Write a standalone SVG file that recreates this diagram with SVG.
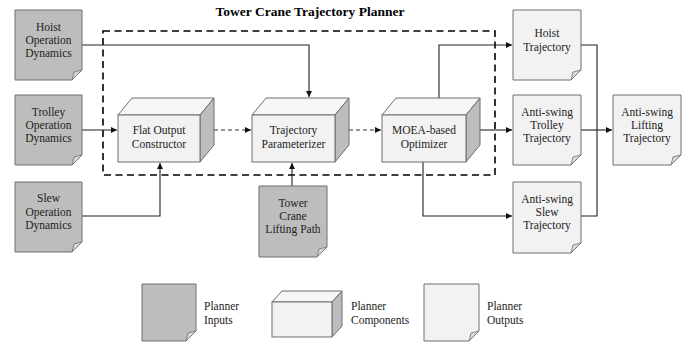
<svg xmlns="http://www.w3.org/2000/svg" width="697" height="346" viewBox="0 0 697 346">
<style>
text{font-family:"Liberation Serif","Times New Roman",serif;font-size:11.5px;fill:#222;text-anchor:middle}
.t{font-weight:bold;font-size:13.5px;fill:#000}
.lg{text-anchor:start}
.in{fill:#bdbdbd;stroke:#6e6e6e;stroke-width:1}
.out{fill:#f2f2f2;stroke:#6e6e6e;stroke-width:1}
.fold{fill:#d9d9d9;stroke:#6e6e6e;stroke-width:0.8}
.fr{fill:#f2f2f2;stroke:#6e6e6e;stroke-width:1}
.tp{fill:#f7f7f7;stroke:#6e6e6e;stroke-width:1}
.sd{fill:#bdbdbd;stroke:#6e6e6e;stroke-width:1}
.c{fill:none;stroke:#222;stroke-width:1.1}
.d{fill:none;stroke:#333;stroke-width:1.1;stroke-dasharray:4 3}
.frame{fill:none;stroke:#000;stroke-width:1.6;stroke-dasharray:7 4.5}
</style>
<defs>
<marker id="ah" viewBox="0 0 6 6" refX="6" refY="3" markerWidth="6" markerHeight="6" markerUnits="userSpaceOnUse" orient="auto">
<path d="M0,0 L6,3 L0,6 Z" fill="#111"/>
</marker>
</defs>
<text class="t" x="310" y="16">Tower Crane Trajectory Planner</text>
<rect class="frame" x="103" y="31" width="392" height="144"/>
<g id="connectors">
<path class="c" d="M82,45 H309 V97" marker-end="url(#ah)"/>
<path class="c" d="M82,130 H117" marker-end="url(#ah)"/>
<path class="c" d="M82,216 H160 V163" marker-end="url(#ah)"/>
<path class="d" d="M214,130 H251" marker-end="url(#ah)"/>
<path class="d" d="M349,130 H381" marker-end="url(#ah)"/>
<path class="c" d="M292,186 V163" marker-end="url(#ah)"/>
<path class="c" d="M439,98 V45 H512" marker-end="url(#ah)"/>
<path class="c" d="M480,130 H512" marker-end="url(#ah)"/>
<path class="c" d="M423,162 V216 H512" marker-end="url(#ah)"/>
<path class="c" d="M581,45 H597 V216 H581"/>
<path class="c" d="M581,130 H612" marker-end="url(#ah)"/>
</g>
<g id="hoist-op">
<path class="in" d="M15,10 H82 V70 L72,80 H15 Z"/><path class="fold" d="M82,70 L72,80 L74,72 Z"/>
<text x="48.5" y="31">Hoist</text><text x="48.5" y="44">Operation</text><text x="48.5" y="57">Dynamics</text>
</g>
<g id="trolley-op">
<path class="in" d="M15,95 H82 V155 L72,165 H15 Z"/><path class="fold" d="M82,155 L72,165 L74,157 Z"/>
<text x="48.5" y="116">Trolley</text><text x="48.5" y="129">Operation</text><text x="48.5" y="142">Dynamics</text>
</g>
<g id="slew-op">
<path class="in" d="M15,182 H82 V242 L72,252 H15 Z"/><path class="fold" d="M82,242 L72,252 L74,244 Z"/>
<text x="48.5" y="202">Slew</text><text x="48.5" y="216">Operation</text><text x="48.5" y="229">Dynamics</text>
</g>
<g id="flat-output">
<path class="tp" d="M118,115 L132,98 H214 L200,115 Z"/>
<path class="sd" d="M200,115 L214,98 V145 L200,162 Z"/>
<rect class="fr" x="118" y="115" width="82" height="47"/>
<text x="159" y="134">Flat Output</text><text x="159" y="148">Constructor</text>
</g>
<g id="traj-param">
<path class="tp" d="M252,115 L266,98 H349 L335,115 Z"/>
<path class="sd" d="M335,115 L349,98 V145 L335,162 Z"/>
<rect class="fr" x="252" y="115" width="83" height="47"/>
<text x="293.5" y="134">Trajectory</text><text x="293.5" y="148">Parameterizer</text>
</g>
<g id="moea">
<path class="tp" d="M382,115 L396,98 H480 L466,115 Z"/>
<path class="sd" d="M466,115 L480,98 V145 L466,162 Z"/>
<rect class="fr" x="382" y="115" width="84" height="47"/>
<text x="424" y="134">MOEA-based</text><text x="424" y="148">Optimizer</text>
</g>
<g id="lifting-path">
<path class="in" d="M259,186 H327 V247 L317,257 H259 Z"/><path class="fold" d="M327,247 L317,257 L319,249 Z"/>
<text x="293" y="207">Tower</text><text x="293" y="220">Crane</text><text x="293" y="233">Lifting Path</text>
</g>
<g id="hoist-traj">
<path class="out" d="M513,10 H581 V70 L571,80 H513 Z"/><path class="fold" d="M581,70 L571,80 L573,72 Z"/>
<text x="547" y="37">Hoist</text><text x="547" y="51">Trajectory</text>
</g>
<g id="trolley-traj">
<path class="out" d="M513,95 H581 V155 L571,165 H513 Z"/><path class="fold" d="M581,155 L571,165 L573,157 Z"/>
<text x="547" y="116">Anti-swing</text><text x="547" y="129">Trolley</text><text x="547" y="142">Trajectory</text>
</g>
<g id="slew-traj">
<path class="out" d="M513,182 H581 V243 L571,253 H513 Z"/><path class="fold" d="M581,243 L571,253 L573,245 Z"/>
<text x="547" y="203">Anti-swing</text><text x="547" y="216">Slew</text><text x="547" y="229">Trajectory</text>
</g>
<g id="lifting-traj">
<path class="out" d="M613,95 H681 V155 L671,165 H613 Z"/><path class="fold" d="M681,155 L671,165 L673,157 Z"/>
<text x="647" y="116">Anti-swing</text><text x="647" y="129">Lifting</text><text x="647" y="142">Trajectory</text>
</g>
<g id="legend-inputs">
<path class="in" d="M142,284 H196 V331 L186,341 H142 Z"/><path class="fold" d="M196,331 L186,341 L188,333 Z"/>
<text class="lg" x="204" y="310">Planner</text><text class="lg" x="204" y="324">Inputs</text>
</g>
<g id="legend-components">
<path class="tp" d="M272,302 L282,291 H342 L332,302 Z"/>
<path class="sd" d="M332,302 L342,291 V326 L332,337 Z"/>
<rect class="fr" x="272" y="302" width="60" height="35"/>
<text class="lg" x="351" y="310">Planner</text><text class="lg" x="351" y="324">Components</text>
</g>
<g id="legend-outputs">
<path class="out" d="M424,284 H479 V331 L469,341 H424 Z"/><path class="fold" d="M479,331 L469,341 L471,333 Z"/>
<text class="lg" x="487" y="310">Planner</text><text class="lg" x="487" y="324">Outputs</text>
</g>
</svg>
